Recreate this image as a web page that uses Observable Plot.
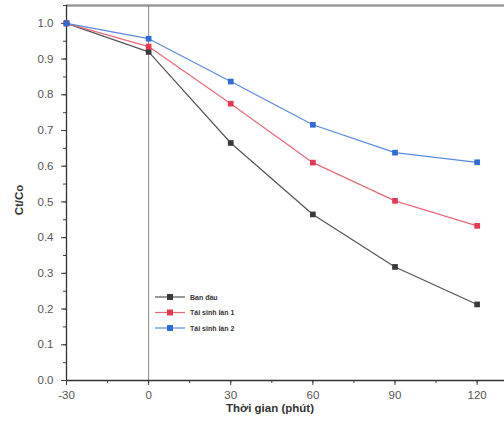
<!DOCTYPE html>
<html>
<head>
<meta charset="utf-8">
<script src="https://cdn.jsdelivr.net/npm/d3@7"></script>
<script src="https://cdn.jsdelivr.net/npm/@observablehq/plot@0.6"></script>
<style>
  html, body { margin: 0; padding: 0; background: #fff; }
  #chart { position: relative; width: 504px; height: 436px; }
</style>
</head>
<body>
<div id="chart"></div>
<script>
const times = [-30, 0, 30, 60, 90, 120];
const seriesNames = ["Ban đầu", "Tái sinh lần 1", "Tái sinh lần 2"];
const banDau = [1.0, 0.92, 0.665, 0.465, 0.318, 0.213];
const taiSinh1 = [1.0, 0.935, 0.775, 0.61, 0.503, 0.433];
const taiSinh2 = [1.0, 0.957, 0.837, 0.716, 0.638, 0.611];
const colors = ["#3a3a3a", "#e8384f", "#2f6bd8"];
const lineColors = ["#555555", "#e86a7a", "#5a8ae0"];
const yTicks = [0, 0.1, 0.2, 0.3, 0.4, 0.5, 0.6, 0.7, 0.8, 0.9, 1.0];
const xTicks = [-30, 0, 30, 60, 90, 120];

const allSeries = [banDau, taiSinh1, taiSinh2];
const data = [];
allSeries.forEach((vals, si) => vals.forEach((v, i) => data.push({t: times[i], v, s: seriesNames[si]})));

const yMinor = d3.range(0, 1.051, 0.05);
const xMinor = d3.range(-30, 121, 15);

const plot = Plot.plot({
  width: 504,
  height: 436,
  marginLeft: 66,
  marginRight: 0,
  marginTop: 5,
  marginBottom: 56,
  style: {fontFamily: "Liberation Sans, Arial, sans-serif", fontSize: "11.5px", color: "#555"},
  x: {domain: [-30, 130]},
  y: {domain: [0, 1.05]},
  color: {domain: seriesNames, range: colors},
  marks: [
    Plot.ruleY([1.05], {stroke: "#999", strokeWidth: 2.5}),
    Plot.ruleX([0], {stroke: "#888", strokeWidth: 1}),
    Plot.axisY(yMinor, {tickSize: 3, text: null, label: null, stroke: "#444"}),
    Plot.axisY(yTicks, {tickSize: 5, tickFormat: d => d.toFixed(1), label: null, fill: "#555", stroke: "#444", fontSize: 11.5, tickPadding: 8}),
    Plot.axisX(xMinor, {tickSize: 3, text: null, label: null, stroke: "#444"}),
    Plot.axisX(xTicks, {tickSize: 5, tickFormat: d => String(d), label: null, fill: "#555", stroke: "#444", fontSize: 11.5, tickPadding: 5}),
    Plot.ruleX([-30], {stroke: "#333", strokeWidth: 1.3}),
    Plot.ruleY([0], {stroke: "#333", strokeWidth: 1.3}),
    Plot.line(data, {x: "t", y: "v", z: "s", stroke: d => lineColors[seriesNames.indexOf(d.s)], strokeWidth: 1.2}),
    Plot.dot(data, {x: "t", y: "v", fill: "s", symbol: "square", r: 3.2, stroke: null})
  ]
});

const div = document.getElementById("chart");
div.appendChild(plot);

const svg = d3.select(plot);
// axis labels
svg.append("text").attr("x", 270).attr("y", 412).attr("text-anchor", "middle")
  .attr("font-family", "Liberation Sans, Arial, sans-serif").attr("font-weight", "bold")
  .attr("font-size", 11.5).attr("fill", "#333").text("Thời gian (phút)");
svg.append("text").attr("transform", "translate(23,200) rotate(-90)").attr("text-anchor", "middle")
  .attr("font-family", "Liberation Sans, Arial, sans-serif").attr("font-weight", "bold")
  .attr("font-size", 11.5).attr("fill", "#333").text("Ct/Co");

// legend
const lg = svg.append("g").attr("transform", "translate(155,297)");
seriesNames.forEach((name, i) => {
  const g = lg.append("g").attr("transform", `translate(0,${i * 15.5})`);
  g.append("line").attr("x1", 0).attr("x2", 30).attr("y1", 0).attr("y2", 0)
    .attr("stroke", lineColors[i]).attr("stroke-width", 1.2);
  g.append("rect").attr("x", 12).attr("y", -3).attr("width", 6).attr("height", 6).attr("fill", colors[i]);
  g.append("text").attr("x", 35).attr("y", 2.5).attr("text-anchor", "start").attr("font-size", 7).attr("font-weight", "bold")
    .attr("font-family", "Liberation Sans, Arial, sans-serif").attr("fill", "#333").text(name);
});
</script>
</body>
</html>
